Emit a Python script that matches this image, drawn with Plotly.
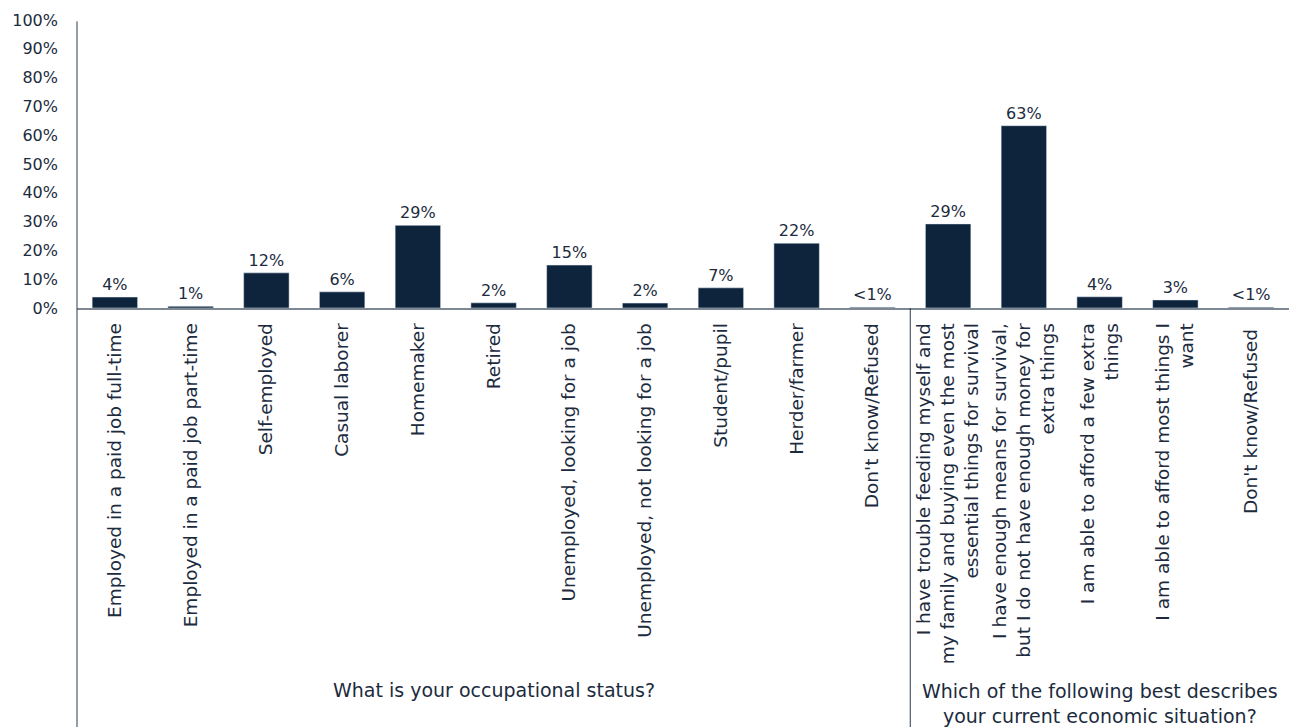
import plotly.graph_objects as go

categories = [
    "Employed in a paid job full-time",
    "Employed in a paid job part-time",
    "Self-employed",
    "Casual laborer",
    "Homemaker",
    "Retired",
    "Unemployed, looking for a job",
    "Unemployed, not looking for a job",
    "Student/pupil",
    "Herder/farmer",
    "Don't know/Refused",
    "I have trouble feeding myself and<br>my family and buying even the most<br>essential things for survival",
    "I have enough means for survival,<br>but I do not have enough money for<br>extra things",
    "I am able to afford a few extra<br>things",
    "I am able to afford most things I<br>want",
    "Don't know/Refused ",
]
values = [3.8, 0.6, 12.2, 5.6, 28.7, 1.8, 14.9, 1.7, 7.0, 22.5, 0.3,
          29.2, 63.3, 3.9, 2.8, 0.3]
labels = ["4%", "1%", "12%", "6%", "29%", "2%", "15%", "2%", "7%", "22%", "<1%",
          "29%", "63%", "4%", "3%", "<1%"]
group_titles = ["What is your occupational status?",
                "Which of the following best describes<br>your current economic situation?"]
y_ticks = list(range(0, 101, 10))

NAVY = "#0e243d"
TXT = "#1c2b3e"
FONT = "DejaVu Sans"

fig = go.Figure(go.Bar(
    x=list(range(len(categories))), y=values, text=labels, textposition="outside",
    textfont=dict(size=16, color=TXT, family=FONT), marker_color=NAVY,
    cliponaxis=False,
))

fig.update_layout(
    width=1289, height=727, margin=dict(l=77, r=0, t=20, b=419),
    plot_bgcolor="white", paper_bgcolor="white", bargap=0.4,
    font=dict(family=FONT, color=TXT, size=17), showlegend=False,
)
fig.update_xaxes(
    tickmode="array", tickvals=list(range(len(categories))), ticktext=categories,
    tickangle=-90, range=[-0.5, len(categories) - 0.5],
    showline=True, linecolor="#7d8894", linewidth=1.5, ticks="",
    ticklabelstandoff=6, tickfont=dict(size=18.5, color=TXT, family=FONT),
    showgrid=False, zeroline=False,
)
fig.update_yaxes(
    range=[0, 100], tickvals=y_ticks, ticktext=[f"{v}%" for v in y_ticks],
    showgrid=False, zeroline=False, showline=False,
    ticklabelstandoff=18, tickfont=dict(size=16, color=TXT, family=FONT),
)

bottom = -419 / 288
fig.add_shape(type="line", xref="paper", yref="paper", x0=0, x1=0, y0=bottom, y1=0.995,
              line=dict(color="#2b3a4c", width=1))
fig.add_shape(type="line", xref="x", yref="paper", x0=10.5, x1=10.5, y0=bottom, y1=0,
              line=dict(color="#2b3a4c", width=1))

fig.add_annotation(x=5, y=(308 - 690) / 288, xref="x", yref="paper", text=group_titles[0],
                   showarrow=False, yanchor="middle", font=dict(size=19, color=TXT, family=FONT))
fig.add_annotation(x=13, y=(308 - 703) / 288, xref="x", yref="paper", text=group_titles[1],
                   showarrow=False, yanchor="middle", font=dict(size=19, color=TXT, family=FONT))

fig.write_html("out.html")
